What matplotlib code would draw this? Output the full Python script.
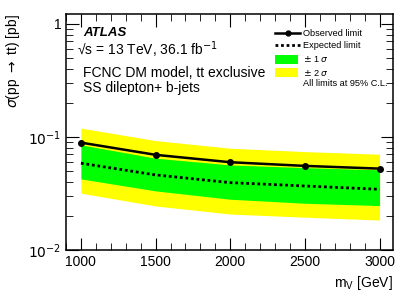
import numpy as np
import matplotlib.pyplot as plt
from matplotlib.ticker import MultipleLocator, LogLocator, NullFormatter
from matplotlib.lines import Line2D
from matplotlib.patches import Rectangle

# mediator mass points
mass = [1000, 1500, 2000, 2500, 3000]
observed = [0.089, 0.0694, 0.0597, 0.0554, 0.0524]
expected = [0.0585, 0.0461, 0.0394, 0.0368, 0.0344]
band1_up = [0.0850, 0.0648, 0.0565, 0.0535, 0.0511]
band1_dn = [0.0425, 0.0333, 0.0281, 0.0259, 0.0247]
band2_up = [0.1195, 0.0927, 0.0794, 0.0741, 0.0703]
band2_dn = [0.0318, 0.0245, 0.0208, 0.0195, 0.0184]

plt.rcParams['font.family'] = ['Liberation Sans', 'DejaVu Sans']

W, H = 415, 298
fig = plt.figure(figsize=(W / 100, H / 100), dpi=100)
ax = fig.add_axes([66 / W, 48 / H, 327 / W, 236 / H])

def fx(px):
    return px / W

def fy(py):
    return 1 - py / H

ax.fill_between(mass, band2_dn, band2_up, color='#ffff00', lw=0)
ax.fill_between(mass, band1_dn, band1_up, color='#00ff00', lw=0)
ax.plot(mass, expected, color='black', lw=2, ls=(0, (1, 1)))
ax.plot(mass, observed, color='black', lw=1.8, marker='o', ms=4)

ax.set_yscale('log')
ax.set_xlim(900, 3090)
ax.set_ylim(0.01, 1.22)

ax.xaxis.set_major_locator(MultipleLocator(500))
ax.xaxis.set_minor_locator(MultipleLocator(100))
ax.yaxis.set_minor_locator(LogLocator(base=10, subs=np.arange(2, 10), numticks=20))
ax.yaxis.set_minor_formatter(NullFormatter())
ax.set_yticks([0.01, 0.1, 1])
ax.set_yticklabels(['$10^{-2}$', '$10^{-1}$', '1'])
ax.tick_params(which='both', direction='in', top=True, right=True, labelsize=10)
ax.tick_params(which='major', length=9)
ax.tick_params(which='minor', length=5)
for s in ax.spines.values():
    s.set_linewidth(1.1)

ax.set_ylabel(r'$\sigma$(pp $\rightarrow$ tt) [pb]', fontsize=10, y=1, ha='right')
ax.set_xlabel(r'm$_\mathregular{V}$ [GeV]', fontsize=10, x=1, ha='right')

# labels on the left
ax.text(0.052, 0.908, 'ATLAS', transform=ax.transAxes, fontsize=9.5,
        fontweight='bold', fontstyle='italic')
ax.text(0.034, 0.826, '\u221as = 13 TeV, 36.1 fb$^{-1}$',
        transform=ax.transAxes, fontsize=10)
ax.text(0.052, 0.733, 'FCNC DM model, tt exclusive', transform=ax.transAxes, fontsize=10)
ax.text(0.052, 0.669, 'SS dilepton+ b-jets', transform=ax.transAxes, fontsize=10)

# legend, drawn by hand to follow the reference spacing
tf = fig.transFigure
fig.add_artist(Line2D([fx(275), fx(300)], [fy(33), fy(33)], color='black', lw=1.8,
                      transform=tf))
fig.add_artist(Line2D([fx(287.5)], [fy(33)], color='black', marker='o', ms=3.5,
                      transform=tf))
fig.add_artist(Line2D([fx(275), fx(300)], [fy(45), fy(45)], color='black', lw=2,
                      ls=(0, (1, 1)), transform=tf))
fig.add_artist(Rectangle((fx(275), fy(64)), fx(23), 9 / H, color='#00ff00', lw=0,
                         transform=tf))
fig.add_artist(Rectangle((fx(275), fy(77)), fx(23), 9 / H, color='#ffff00', lw=0,
                         transform=tf))
legend_rows = [('Observed limit', 33), ('Expected limit', 45),
               (r'$\pm$ 1 $\sigma$', 59.5), (r'$\pm$ 2 $\sigma$', 72.5),
               ('All limits at 95% C.L.', 83.5)]
for txt, py in legend_rows:
    fig.text(fx(303), fy(py), txt, fontsize=6.6, va='center')

fig.savefig('out.png', dpi=100)
